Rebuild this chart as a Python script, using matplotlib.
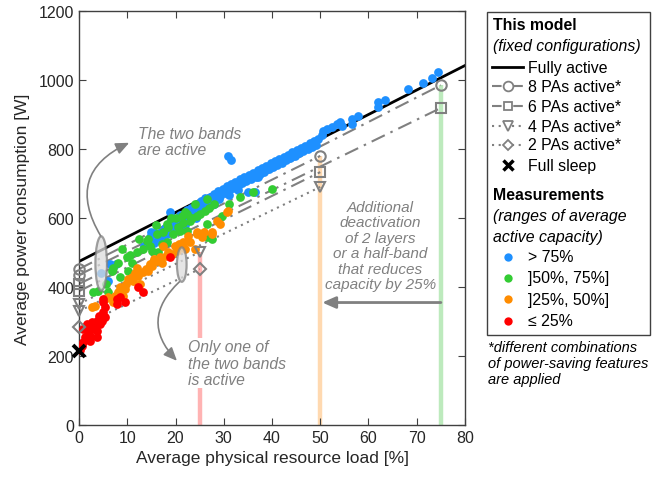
import numpy as np
import matplotlib
matplotlib.use('Agg')
import matplotlib.pyplot as plt
from matplotlib.lines import Line2D
from matplotlib.patches import Ellipse, Rectangle

plt.rcParams['font.family'] = ['Liberation Sans', 'DejaVu Sans']

# measurements, by range of average active capacity
blue_x = [4.5, 6.0, 6.4, 7.6, 13.5, 14.2, 14.8, 15.5, 15.8, 16.4, 16.9, 17.3, 17.8, 18.2, 18.9, 18.7,
          19.3, 19.8, 20.2, 20.6, 21.1, 21.5, 22.0, 22.4, 22.9, 23.3, 23.8, 24.4, 24.2, 24.9, 25.3,
          25.8, 26.2, 26.7, 27.1, 27.6, 28.0, 28.5, 28.9, 29.3, 29.8, 30.2, 30.9, 31.6, 30.6, 31.0,
          31.5, 32.0, 32.4, 32.9, 33.3, 33.8, 34.2, 34.7, 35.0, 36.4, 35.2, 35.7, 36.1, 36.6, 37.0,
          37.5, 37.9, 38.4, 38.8, 39.3, 39.7, 40.2, 40.6, 41.1, 41.5, 42.0, 42.4, 42.9, 43.3, 43.8,
          44.2, 44.7, 45.1, 45.6, 46.0, 46.5, 46.9, 47.4, 47.8, 48.3, 48.7, 49.2, 49.6, 50.4, 50.6,
          51.4, 52.4, 53.5, 54.1, 54.5, 56.6, 56.6, 57.8, 62.0, 62.0, 63.4, 68.2, 71.3, 73.2, 74.4,
          20.0, 22.0, 26.0, 28.0, 33.0, 19.0, 21.0, 23.5, 25.5, 27.5, 15.0, 17.0, 29.0, 31.0, 37.0]
blue_y = [440, 418, 467, 468, 520, 530, 545, 528, 556, 540, 560, 548, 572, 555, 617, 580,
          566, 590, 575, 600, 585, 610, 596, 622, 606, 630, 615, 641, 600, 628, 650,
          635, 658, 645, 662, 650, 670, 660, 678, 665, 685, 672, 780, 768, 692, 680,
          698, 688, 705, 694, 712, 700, 718, 708, 675, 676, 725, 714, 731, 720, 738,
          727, 745, 734, 752, 741, 758, 748, 765, 754, 771, 760, 778, 768, 784, 774,
          790, 780, 797, 787, 803, 793, 810, 800, 816, 806, 822, 812, 830, 841, 852,
          858, 864, 872, 878, 867, 887, 872, 896, 936, 922, 942, 974, 991, 1006, 1023,
          565, 580, 622, 642, 682, 595, 608, 612, 625, 640, 560, 545, 655, 668, 718]

green_x = [2.9, 3.9, 6.0, 5.5, 6.8, 7.0, 8.5, 9.9, 10.2, 10.6, 11.0, 12.0, 13.3, 14.1, 14.3, 14.7,
           14.7, 15.1, 15.3, 16.2, 16.4, 17.2, 18.2, 18.2, 18.4, 19.5, 20.0, 20.9, 21.3, 22.0, 22.4,
           22.4, 23.0, 24.4, 25.0, 26.1, 26.5, 26.5, 26.5, 27.5, 27.0, 28.0, 29.6, 31.0, 33.4, 36.1,
           40.0, 12.5, 16.0, 19.0, 21.5, 24.0, 9.0, 8.0, 17.5, 20.5, 23.5]
green_y = [385, 388, 385, 410, 446, 455, 429, 487, 446, 492, 470, 500, 510, 533, 539, 461,
           519, 504, 472, 554, 501, 525, 530, 583, 575, 554, 600, 562, 606, 617, 562,
           612, 590, 606, 612, 620, 545, 583, 655, 539, 630, 640, 606, 640, 661, 675,
           684, 540, 580, 600, 585, 640, 510, 470, 560, 575, 600]

orange_x = [2.7, 3.3, 5.4, 6.0, 7.0, 7.5, 8.1, 8.5, 9.1, 9.5, 10.2, 11.0, 11.2, 11.6, 12.2, 12.6,
            13.3, 13.8, 14.3, 14.7, 15.1, 16.2, 16.8, 17.2, 17.4, 18.0, 19.3, 19.9, 20.3, 21.6,
            21.6, 22.0, 22.6, 23.0, 24.0, 24.4, 24.5, 25.5, 27.5, 27.6, 29.2, 30.7, 30.9, 9.8,
            12.0, 15.5, 18.5, 20.8, 26.0, 28.5]
orange_y = [342, 345, 365, 370, 356, 374, 385, 400, 374, 395, 423, 429, 417, 440, 432, 409,
            443, 452, 446, 467, 460, 476, 487, 470, 519, 490, 496, 519, 504, 519,
            530, 510, 548, 530, 510, 554, 559, 545, 554, 560, 583, 617, 620, 410,
            455, 480, 500, 525, 560, 590]

red_x = [0.2, 0.6, 0.8, 1.2, 1.9, 2.3, 0.8, 1.6, 2.7, 3.7, 4.8, 5.4, 3.3, 3.7, 2.3, 2.9,
         1.2, 4.4, 3.7, 5.0, 5.4, 5.0, 5.0, 7.9, 7.9, 9.5, 8.6, 12.2, 13.3, 18.9, 4.2, 2.0]
red_y = [218, 230, 240, 255, 264, 243, 278, 293, 299, 301, 301, 313, 278, 255, 258, 284,
         284, 293, 272, 328, 342, 357, 365, 365, 351, 357, 372, 400, 386, 487, 315, 270]

# model (fixed configurations)
full_x = [0, 80]
full_y = [474, 1042]
cfg_x0 = [0, 0, 0, 0, 0, 0, 0]
cfg_x1 = [75, 50, 75, 50, 50, 25, 25]
cfg_y0 = [452, 435, 409, 388, 351, 330, 284]
cfg_y1 = [985, 780, 919, 733, 690, 501, 452]
cfg_marker = ['o', 'o', 's', 's', 'v', 'v', 'D']
sleep_x, sleep_y = 0, 215

# capacity bars
bar_x = [25, 50, 75]
bar_top = [501, 780, 985]
bar_col = ['#ffb3b3', '#ffd9b0', '#bdeabd']

GRAY = '#808080'
DASHDOT = (7, 3, 1.2, 3)
DOTS = (1, 2.2)

fig = plt.figure(figsize=(6.7, 4.81), dpi=100)
ax = fig.add_axes([79 / 670, 1 - 426 / 481, 386 / 670, 414 / 481])

for x, top, c in zip(bar_x, bar_top, bar_col):
    ax.plot([x, x], [0, top], color=c, lw=3.2, solid_capstyle='butt', zorder=1)

ax.plot(full_x, full_y, color='black', lw=2.0, zorder=2)
for x0, x1, y0, y1, m in zip(cfg_x0, cfg_x1, cfg_y0, cfg_y1, cfg_marker):
    dash = DOTS if m in ('v', 'D') else DASHDOT
    ax.plot([x0, x1], [y0, y1], color=GRAY, lw=1.5, dashes=dash, zorder=2)

ms = 6.3
ax.scatter(blue_x, blue_y, s=ms ** 2, color='#1e90ff', lw=0, zorder=3)
ax.scatter(green_x, green_y, s=ms ** 2, color='#33cc33', lw=0, zorder=3)
ax.scatter(orange_x, orange_y, s=ms ** 2, color='#ff8c00', lw=0, zorder=3)
ax.scatter(red_x, red_y, s=ms ** 2, color='#ff0000', lw=0, zorder=3)

for x0, x1, y0, y1, m in zip(cfg_x0, cfg_x1, cfg_y0, cfg_y1, cfg_marker):
    msz = 6 if m == 'D' else 7.5 if m in ('o', 'v') else 6.5
    ax.plot([x0, x1], [y0, y1], ls='none', marker=m, ms=msz, mfc='none', mec=GRAY, mew=1.5,
            zorder=4, clip_on=False)
ax.plot(sleep_x, sleep_y, ls='none', marker='x', ms=8, mew=2.8, color='black', zorder=5, clip_on=False)

ax.add_patch(Ellipse((4.6, 468), 2.4, 158, fc='#dddddd', ec=GRAY, lw=1.6, alpha=0.75, zorder=4))
ax.add_patch(Ellipse((21.3, 465), 2.0, 100, fc='#dddddd', ec=GRAY, lw=1.6, alpha=0.75, zorder=4))

ax.annotate('', xy=(10.4, 818), xytext=(4.5, 548),
            arrowprops=dict(arrowstyle='-|>,head_length=0.8,head_width=0.35', color=GRAY, lw=1.2,
                            connectionstyle='arc3,rad=-0.55', shrinkA=0, shrinkB=0), zorder=4)
ax.annotate('', xy=(20.3, 186), xytext=(20.8, 415),
            arrowprops=dict(arrowstyle='-|>,head_length=0.8,head_width=0.35', color=GRAY, lw=1.2,
                            connectionstyle='arc3,rad=0.5', shrinkA=0, shrinkB=0), zorder=4)
ax.annotate('', xy=(50.4, 355), xytext=(75, 355),
            arrowprops=dict(arrowstyle='-|>,head_length=0.8,head_width=0.35', color=GRAY, lw=2,
                            shrinkA=0, shrinkB=0), zorder=4)

afs = 11.3
ax.text(12.2, 868, 'The two bands\nare active', fontsize=afs, style='italic', color=GRAY,
        va='top', ha='left', linespacing=1.1, zorder=6)
ax.text(22.6, 248, 'Only one of\nthe two bands\nis active', fontsize=afs, style='italic', color=GRAY,
        va='top', ha='left', linespacing=1.1, zorder=6,
        bbox=dict(fc='white', ec='none', pad=1))
ax.text(62.4, 652, 'Additional\ndeactivation\nof 2 layers\nor a half-band\nthat reduces\ncapacity by 25%',
        fontsize=11, style='italic', color=GRAY, va='top', ha='center', multialignment='center',
        linespacing=1.13, zorder=6)

ax.set_xlim(0, 80)
ax.set_ylim(0, 1200)
ax.set_xticks(np.arange(0, 81, 10))
ax.set_yticks(np.arange(0, 1201, 200))
ax.tick_params(direction='in', top=True, right=True, length=5, labelsize=11.5,
               colors='#404040', labelcolor='#262626')
for s in ax.spines.values():
    s.set_color('#404040')
    s.set_linewidth(1.0)
ax.set_xlabel('Average physical resource load [%]', fontsize=12.5, color='#262626', labelpad=4)
ax.set_ylabel('Average power consumption [W]', fontsize=12.5, color='#262626', labelpad=6)


# legend, drawn by hand in figure pixels
def fp(x, y):
    return x / 670, 1 - y / 481


fig.add_artist(Rectangle(fp(487, 336), 163 / 670, 323 / 481, transform=fig.transFigure,
                         fc='white', ec='#404040', lw=1.0))
lfs = 11.4
hx0, hx1, tx = 492, 523, 528


def ltext(y, s, x=tx, **kw):
    fig.text(*fp(x, y), s, fontsize=lfs, va='center', ha='left', color='black', **kw)


def lline(y, marker=None, dashes=None, color=GRAY, lw=1.5, ms=7):
    kw = dict(color=color, lw=lw, transform=fig.transFigure)
    if dashes is not None:
        kw['dashes'] = dashes
    fig.add_artist(Line2D([hx0 / 670, hx1 / 670], [1 - y / 481] * 2, **kw))
    if marker:
        fig.add_artist(Line2D([(hx0 + hx1) / 2 / 670], [1 - y / 481], ls='none', marker=marker,
                              ms=ms, mfc='white', mec=GRAY, mew=1.3, transform=fig.transFigure))


ltext(25, 'This model', x=493, weight='bold')
ltext(46, '(fixed configurations)', x=493, style='italic')
lline(68, color='black', lw=2.0)
ltext(68, 'Fully active')
lline(87, 'o', dashes=(4.6, 5.6))
ltext(87, '8 PAs active*')
lline(107, 's', dashes=(4.6, 5.6), ms=6)
ltext(107, '6 PAs active*')
lline(127, 'v', dashes=DOTS)
ltext(127, '4 PAs active*')
lline(146, 'D', dashes=DOTS, ms=5.5)
ltext(146, '2 PAs active*')
fig.add_artist(Line2D([508 / 670], [1 - 166 / 481], ls='none', marker='x', ms=7, mew=2.5,
                      color='black', transform=fig.transFigure))
ltext(166, 'Full sleep')
ltext(195, 'Measurements', x=493, weight='bold')
ltext(217, '(ranges of average', x=493, style='italic')
ltext(238, 'active capacity)', x=493, style='italic')
for y, c, s in zip([258, 279, 300, 322], ['#1e90ff', '#33cc33', '#ff8c00', '#ff0000'],
                   ['> 75%', ']50%, 75%]', ']25%, 50%]', '≤ 25%']):
    fig.add_artist(Line2D([508 / 670], [1 - y / 481], ls='none', marker='o', ms=6, mew=0,
                          color=c, transform=fig.transFigure))
    ltext(y, s)
fig.text(*fp(488, 341), '*different combinations\nof power-saving features\nare applied',
         fontsize=10.5, style='italic', va='top', ha='left', linespacing=1.2)

fig.savefig('out.png', dpi=100)
